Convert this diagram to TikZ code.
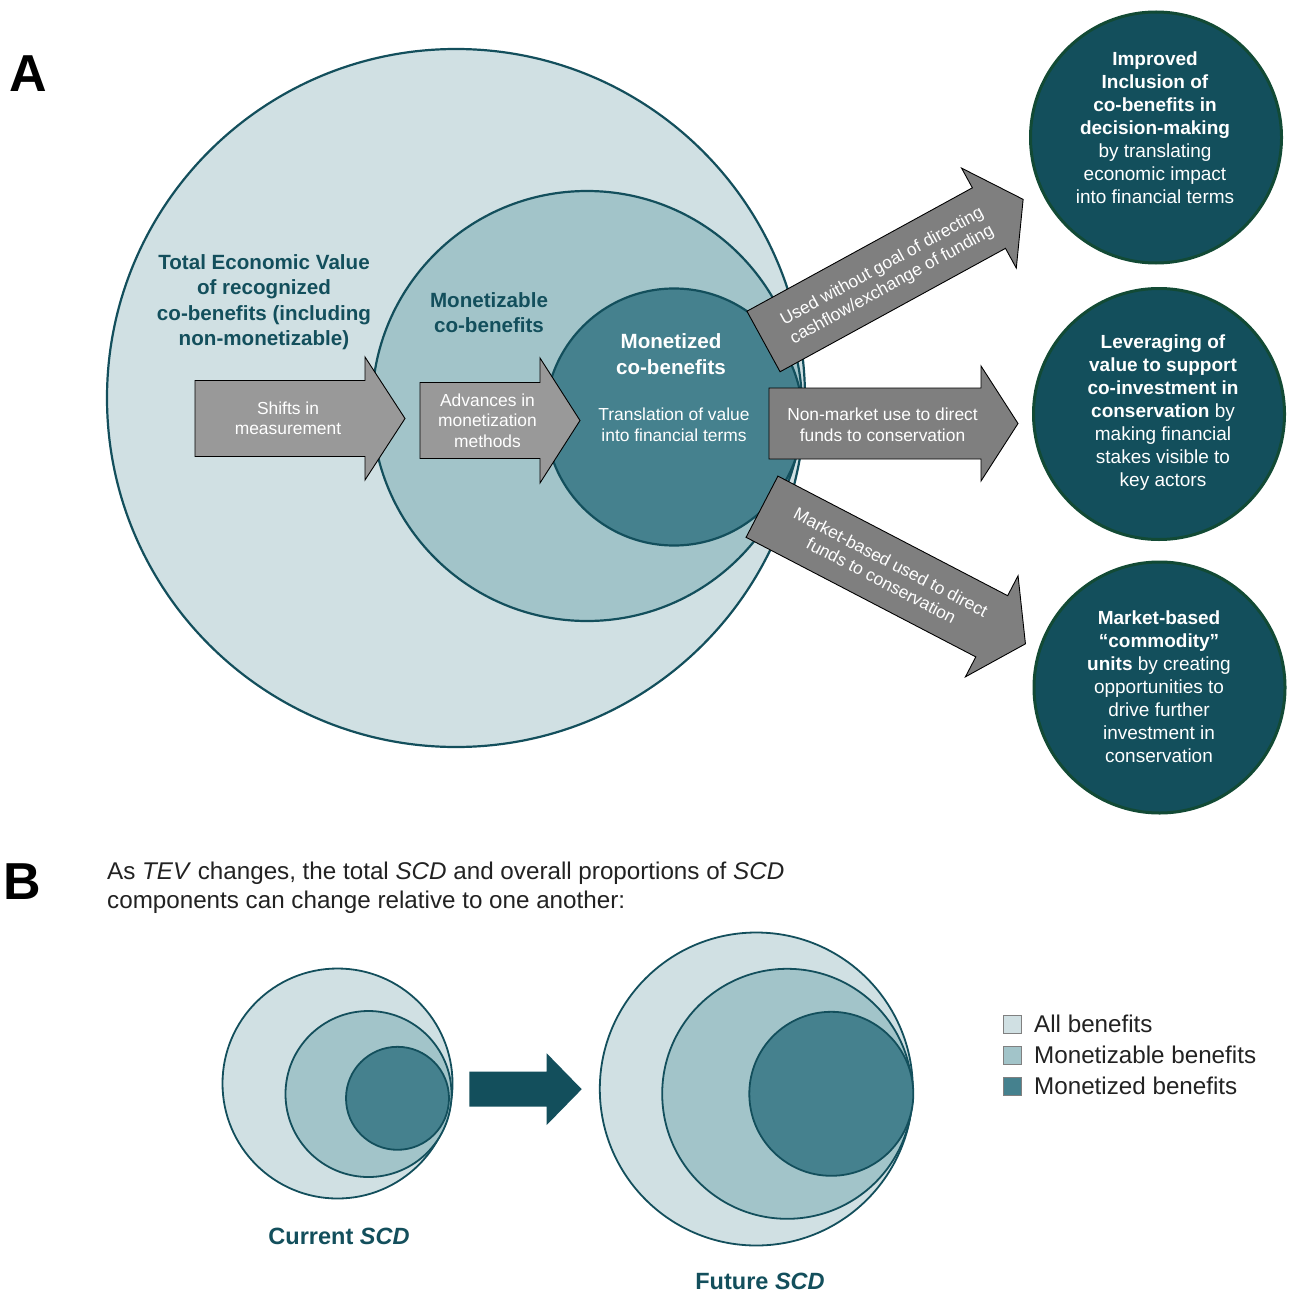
\documentclass[tikz,border=0pt]{standalone}
\usepackage{fontspec}
\setmainfont{Liberation Sans}
\definecolor{tealA}{HTML}{D0E0E3}
\definecolor{tealB}{HTML}{A2C4C9}
\definecolor{tealC}{HTML}{45818E}
\definecolor{tealD}{HTML}{134F5C}
\definecolor{ringG}{HTML}{124A35}
\definecolor{grayL}{HTML}{999999}
\definecolor{grayD}{HTML}{7F7F7F}
\definecolor{txtgray}{HTML}{222222}
\begin{document}
\begin{tikzpicture}[x=1pt,y=-1pt,
  ring/.style={circle, draw=tealD, line width=2.2pt, inner sep=0pt},
  ringB/.style={circle, draw=tealD, line width=1.8pt, inner sep=0pt},
  darkc/.style={circle, draw=ringG, fill=tealD, line width=3pt, inner sep=0pt, minimum size=251},
  arrowL/.style={fill=grayL, draw=black, line width=0.9pt, line join=miter},
  arrowD/.style={fill=grayD, draw=black, line width=0.9pt, line join=miter},
  arrtxt/.style={text=white, align=center, inner sep=0pt, font=\fontsize{17.4}{20.5}\selectfont},
  ctitle/.style={text=tealD, align=center, inner sep=0pt, font=\bfseries\fontsize{20.6}{25.5}\selectfont},
  dtxt/.style={text=white, align=center, inner sep=0pt, font=\fontsize{19}{23}\selectfont},
  panel/.style={inner sep=0pt, font=\bfseries\fontsize{52}{52}\selectfont},
  legsq/.style={draw=gray, line width=0.8pt, minimum size=18, inner sep=0pt},
  legtxt/.style={anchor=west, inner sep=0pt, text=txtgray, font=\fontsize{24.2}{29}\selectfont},
  blabel/.style={text=tealD, inner sep=0pt, font=\bfseries\fontsize{23.5}{27}\selectfont}
]
\useasboundingbox (0,0) rectangle (1290,1292);
\fill[white] (0,0) rectangle (1290,1292);

% ---------- Panel A ----------
\node[panel] (pA) at (28,73.5) {A};

\node[ring, fill=tealA, minimum size=698] (tev) at (456,398) {};
\node[ring, fill=tealB, minimum size=430] (mable) at (587,406) {};
\node[ring, fill=tealC, minimum size=257] (mised) at (674,417) {};

\node[ctitle] (tevtxt) at (264,302) {Total Economic Value\\of recognized\\co-benefits (including\\non-monetizable)};
\node[ctitle] (mabletxt) at (489,312.5) {Monetizable\\co-benefits};
\node[ctitle, text=white] (misedtxt) at (671,354) {Monetized\\co-benefits};
\node[arrtxt] (transl) at (674,425) {Translation of value\\into financial terms};

% left arrows
\draw[arrowL] (195,380.5) -- (365,380.5) -- (365,357) -- (405,418.5) -- (365,480) -- (365,456.5) -- (195,456.5) -- cycle;
\node[arrtxt] (shift) at (288,418.5) {Shifts in\\measurement};
\draw[arrowL] (420,382.5) -- (540,382.5) -- (540,358) -- (580,420.5) -- (540,483) -- (540,458.5) -- (420,458.5) -- cycle;
\node[arrtxt] (adv) at (487.5,420.5) {Advances in\\monetization\\methods};

% right arrows
\draw[arrowD] (769,388) -- (981,388) -- (981,366) -- (1018,423.5) -- (981,481) -- (981,459) -- (769,459) -- cycle;
\node[arrtxt] (nonmkt) at (882.5,425) {Non-market use to direct\\funds to conservation};

\begin{scope}[shift={(763.5,341.5)}, rotate=28.7]
  \draw[arrowD] (0,-34.5) -- (257,-34.5) -- (257,-57) -- (296,0) -- (257,57) -- (257,34.5) -- (0,34.5) -- cycle;
  \node[arrtxt, rotate=28.7] (used) at (140,2) {Used without goal of directing\\cashflow/exchange of funding};
\end{scope}
\begin{scope}[shift={(762,506.7)}, rotate=-27.5]
  \draw[arrowD] (0,-34.5) -- (259,-34.5) -- (259,-57) -- (297,0) -- (259,57) -- (259,34.5) -- (0,34.5) -- cycle;
  \node[arrtxt, rotate=-27.5] (mkt) at (140,0) {Market-based used to direct\\funds to conservation};
\end{scope}

% outcome circles
\node[darkc] (c1) at (1156,137.5) {};
\node[dtxt] (c1t) at (1155,127.5) {\textbf{Improved}\\\textbf{Inclusion of}\\\textbf{co-benefits in}\\\textbf{decision-making}\\by translating\\economic impact\\into financial terms};
\node[darkc] (c2) at (1159,414) {};
\node[dtxt] (c2t) at (1163,412.5) {\textbf{Leveraging of}\\\textbf{value to support}\\\textbf{co-investment in}\\\textbf{conservation} by\\making financial\\stakes visible to\\key actors};
\node[darkc] (c3) at (1159.5,687.5) {};
\node[dtxt] (c3t) at (1159,686.7) {\textbf{Market-based}\\\textbf{“commodity”}\\\textbf{units} by creating\\opportunities to\\drive further\\investment in\\conservation};

% ---------- Panel B ----------
\node[panel] (pB) at (22,882) {B};
\node[legtxt, align=left] (btxt) at (107,887.5) {As \textit{TEV} changes, the total \textit{SCD} and overall proportions of \textit{SCD}\\components can change relative to one another:};

\node[ringB, fill=tealA, minimum size=230] (cur1) at (337.5,1083.5) {};
\node[ringB, fill=tealB, minimum size=166] (cur2) at (368.5,1094) {};
\node[ringB, fill=tealC, minimum size=103] (cur3) at (397.5,1098.3) {};
\node[blabel] (curlbl) at (339,1236) {Current \textit{SCD}};

\fill[tealD] (469.3,1071.7) -- (546.7,1071.7) -- (546.7,1053.3) -- (581.7,1089.2) -- (546.7,1125) -- (546.7,1106.7) -- (469.3,1106.7) -- cycle;

\node[ringB, fill=tealA, minimum size=313] (fut1) at (756.3,1089) {};
\node[ringB, fill=tealB, minimum size=250] (fut2) at (787.2,1093.8) {};
\node[ringB, fill=tealC, minimum size=164] (fut3) at (831.3,1093.8) {};
\node[blabel] (futlbl) at (760,1281) {Future \textit{SCD}};

% legend
\node[legsq, fill=tealA] (l1) at (1012,1024) {};
\node[legtxt] (l1t) at (1034,1024) {All benefits};
\node[legsq, fill=tealB] (l2) at (1012,1055) {};
\node[legtxt] (l2t) at (1034,1055) {Monetizable benefits};
\node[legsq, fill=tealC] (l3) at (1012,1086) {};
\node[legtxt] (l3t) at (1034,1086) {Monetized benefits};
\end{tikzpicture}
\end{document}
